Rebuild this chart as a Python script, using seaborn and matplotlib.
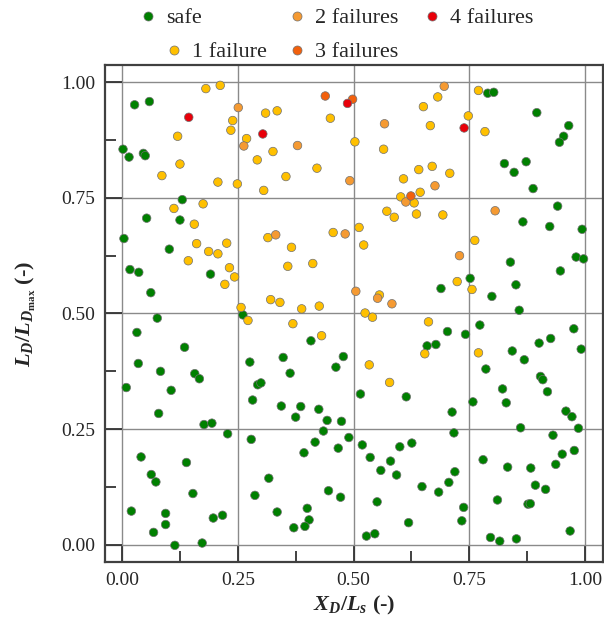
import pandas as pd
import seaborn as sns
import matplotlib
matplotlib.use("Agg")
import matplotlib.pyplot as plt
from matplotlib.lines import Line2D
from matplotlib.ticker import MultipleLocator

# categories and colours
categories = ["safe", "1 failure", "2 failures", "3 failures", "4 failures"]
colors = ["#008000", "#FFC000", "#F59A32", "#F2600C", "#E8000A"]

# safe points
safe_x = [0.027, 0.059, 0.002, 0.015, 0.046, 0.050, 0.130, 0.053, 0.125,
          0.790, 0.803, 0.896, 0.965, 0.954, 0.945, 0.826, 0.873, 0.847, 0.888, 0.941, 0.866, 0.924,
          0.004, 0.102, 0.017, 0.036, 0.191, 0.062, 0.076, 0.032, 0.135, 0.035, 0.083, 0.157, 0.167, 0.009, 0.106,
          0.079, 0.177, 0.194, 0.228, 0.041, 0.139, 0.063, 0.073, 0.153, 0.020, 0.094, 0.094, 0.068, 0.197, 0.217, 0.114, 0.173,
          0.261, 0.408, 0.348, 0.478, 0.276, 0.363, 0.462, 0.293, 0.300,
          0.282, 0.344, 0.386, 0.375, 0.425, 0.443, 0.474, 0.435, 0.279, 0.417, 0.490, 0.393, 0.467, 0.317, 0.287,
          0.446, 0.472, 0.335, 0.400, 0.404, 0.371, 0.395,
          0.752, 0.689, 0.703, 0.742, 0.773, 0.659, 0.678, 0.515, 0.614,
          0.994, 0.839, 0.981, 0.997, 0.947, 0.851, 0.799, 0.858, 0.976, 0.926, 0.901, 0.992, 0.843, 0.869, 0.786,
          0.904, 0.909, 0.822, 0.919,
          0.758, 0.713, 0.717, 0.519, 0.600, 0.626, 0.536, 0.580, 0.559, 0.593, 0.719, 0.706, 0.648, 0.684, 0.551,
          0.738, 0.734, 0.619, 0.528, 0.546,
          0.830, 0.959, 0.972, 0.861, 0.986, 0.931, 0.951, 0.977, 0.780, 0.833, 0.883, 0.937, 0.893, 0.915, 0.811,
          0.877, 0.882, 0.968, 0.796, 0.816, 0.852]
safe_y = [0.951, 0.958, 0.855, 0.838, 0.846, 0.841, 0.746, 0.706, 0.702,
          0.976, 0.978, 0.934, 0.906, 0.883, 0.870, 0.824, 0.828, 0.805, 0.770, 0.732, 0.698, 0.688,
          0.662, 0.639, 0.595, 0.589, 0.585, 0.545, 0.490, 0.459, 0.427, 0.392, 0.375, 0.370, 0.359, 0.340, 0.334,
          0.284, 0.260, 0.263, 0.240, 0.190, 0.178, 0.152, 0.136, 0.111, 0.073, 0.068, 0.044, 0.027, 0.058, 0.064, -0.001, 0.004,
          0.497, 0.441, 0.405, 0.407, 0.395, 0.371, 0.384, 0.346, 0.350,
          0.313, 0.300, 0.299, 0.276, 0.293, 0.269, 0.267, 0.246, 0.228, 0.222, 0.232, 0.199, 0.209, 0.144, 0.107,
          0.117, 0.103, 0.071, 0.079, 0.054, 0.037, 0.040,
          0.576, 0.554, 0.461, 0.455, 0.475, 0.430, 0.433, 0.326, 0.320,
          0.682, 0.611, 0.622, 0.618, 0.592, 0.562, 0.537, 0.507, 0.467, 0.446, 0.436, 0.423, 0.419, 0.400, 0.380,
          0.364, 0.357, 0.337, 0.331,
          0.309, 0.287, 0.242, 0.216, 0.212, 0.220, 0.189, 0.181, 0.161, 0.151, 0.158, 0.135, 0.126, 0.114, 0.093,
          0.081, 0.052, 0.048, 0.019, 0.024,
          0.307, 0.289, 0.277, 0.253, 0.252, 0.237, 0.196, 0.204, 0.184, 0.168, 0.166, 0.174, 0.129, 0.120, 0.097,
          0.088, 0.089, 0.030, 0.016, 0.008, 0.013]

# 1 failure
one_x = [0.181, 0.212, 0.120, 0.125, 0.086, 0.207, 0.112, 0.175, 0.156,
         0.239, 0.235, 0.310, 0.335, 0.450, 0.269, 0.326, 0.292, 0.503, 0.421, 0.354, 0.249, 0.306,
         0.770, 0.682, 0.651, 0.748, 0.666, 0.565, 0.641, 0.670, 0.608, 0.708, 0.602, 0.631, 0.644, 0.572,
         0.588, 0.636, 0.693, 0.512, 0.784,
         0.161, 0.187, 0.207, 0.226, 0.143, 0.232, 0.222,
         0.315, 0.366, 0.456, 0.358, 0.412, 0.243, 0.321, 0.341, 0.388, 0.426, 0.257, 0.272, 0.369, 0.431,
         0.522, 0.762, 0.724, 0.756, 0.556, 0.525, 0.541, 0.662, 0.654, 0.770, 0.534, 0.578]
one_y = [0.986, 0.993, 0.883, 0.823, 0.798, 0.784, 0.727, 0.737, 0.693,
         0.917, 0.896, 0.933, 0.938, 0.922, 0.878, 0.850, 0.832, 0.871, 0.814, 0.796, 0.780, 0.766,
         0.982, 0.968, 0.947, 0.927, 0.906, 0.855, 0.811, 0.818, 0.791, 0.803, 0.752, 0.739, 0.762, 0.721,
         0.708, 0.715, 0.713, 0.686, 0.893,
         0.651, 0.634, 0.629, 0.652, 0.614, 0.599, 0.563,
         0.664, 0.643, 0.675, 0.602, 0.608, 0.579, 0.530, 0.524, 0.510, 0.516, 0.513, 0.485, 0.478, 0.452,
         0.648, 0.658, 0.569, 0.552, 0.540, 0.501, 0.492, 0.482, 0.413, 0.415, 0.389, 0.351]

# 2 failures
two_x = [0.251, 0.263, 0.379, 0.492, 0.696, 0.567, 0.676, 0.613, 0.806, 0.332, 0.482, 0.505, 0.729, 0.552, 0.583]
two_y = [0.945, 0.862, 0.863, 0.787, 0.991, 0.910, 0.776, 0.741, 0.722, 0.670, 0.672, 0.548, 0.625, 0.533, 0.521]

# 3 failures
three_x = [0.439, 0.498, 0.624]
three_y = [0.970, 0.963, 0.754]

# 4 failures
four_x = [0.144, 0.304, 0.487, 0.739]
four_y = [0.924, 0.888, 0.954, 0.901]

groups = [(safe_x, safe_y), (one_x, one_y), (two_x, two_y), (three_x, three_y), (four_x, four_y)]
df = pd.concat([pd.DataFrame({"x": gx, "y": gy, "status": cat})
                for cat, (gx, gy) in zip(categories, groups)], ignore_index=True)

sns.set_style("ticks")
plt.rcParams["font.family"] = ["Liberation Serif", "DejaVu Serif"]
plt.rcParams["mathtext.fontset"] = "custom"
plt.rcParams["mathtext.rm"] = "Liberation Serif:bold"
plt.rcParams["mathtext.it"] = "Liberation Serif:bold:italic"
plt.rcParams["mathtext.bf"] = "Liberation Serif:bold"

fig = plt.figure(figsize=(6.04, 6.28), dpi=100)
ax = fig.add_axes([0.1738, 0.1051, 0.8245, 0.7914])

sns.scatterplot(data=df, x="x", y="y", hue="status", hue_order=categories,
                palette=colors, s=38, edgecolor="#707070", linewidth=0.5,
                legend=False, ax=ax, zorder=3)

ax.set_xlim(-0.037, 1.039)
ax.set_ylim(-0.037, 1.037)
ax.xaxis.set_major_locator(MultipleLocator(0.25))
ax.yaxis.set_major_locator(MultipleLocator(0.25))
ax.xaxis.set_minor_locator(MultipleLocator(0.125))
ax.yaxis.set_minor_locator(MultipleLocator(0.125))
ax.xaxis.set_major_formatter(lambda v, p: f"{v:.2f}")
ax.yaxis.set_major_formatter(lambda v, p: f"{v:.2f}")
ax.grid(True, which="major", color="#8a8a8a", linewidth=1.0)
ax.tick_params(which="major", direction="in", length=12, width=1.3, color="#333333",
               labelsize=14, pad=7)
ax.tick_params(which="minor", direction="in", length=8, width=1.3, color="#333333")
for sp in ax.spines.values():
    sp.set_color("#404040")
    sp.set_linewidth(1.6)

ax.set_xlabel(r"$X_D/L_s$ (-)", fontsize=16, fontweight="bold", labelpad=4)
ax.set_ylabel(r"$L_D/L_{D_{\mathrm{max}}}$ (-)", fontsize=16, fontweight="bold", labelpad=17)

# legend entries laid out like the original (two rows)
legend_pos = [(0.2268, 0.971), (0.270, 0.917), (0.4735, 0.971), (0.4735, 0.917), (0.697, 0.971)]
for cat, col, (lx, ly) in zip(categories, colors, legend_pos):
    h = Line2D([], [], marker="o", ls="", markersize=6.5, markerfacecolor=col,
               markeredgecolor="#707070", markeredgewidth=0.5)
    fig.legend(handles=[h], labels=[cat], loc="center left", bbox_to_anchor=(lx, ly),
               frameon=False, fontsize=16, borderpad=0, borderaxespad=0,
               handlelength=1, handletextpad=0.3)

fig.savefig("out.png", dpi=100)
